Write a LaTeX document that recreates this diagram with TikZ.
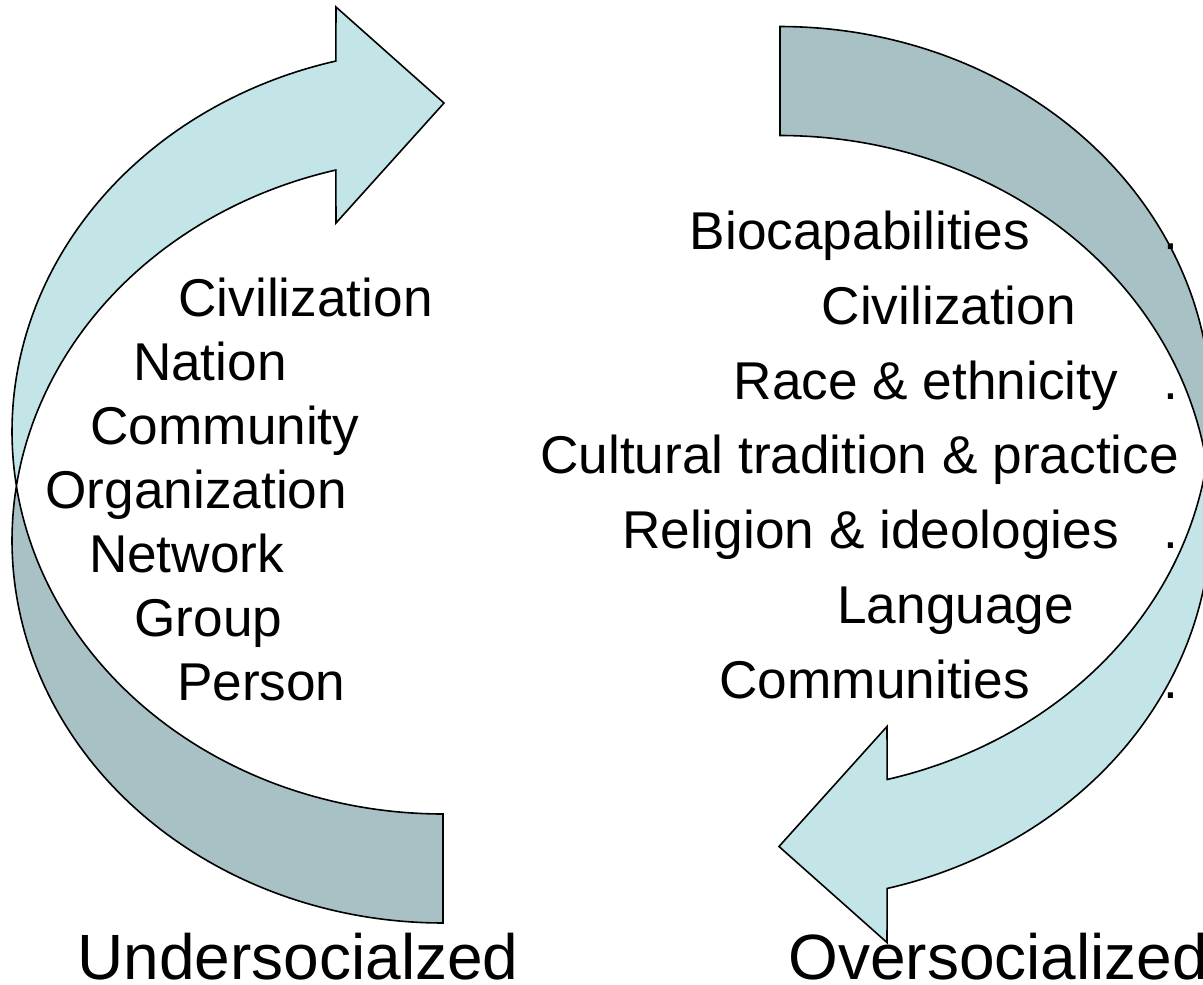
\documentclass[tikz,border=0pt]{standalone}
\usepackage{fontspec}
\setmainfont{Liberation Sans}
\definecolor{lightband}{HTML}{C4E5E8}
\definecolor{darkband}{HTML}{A7C1C4}
\tikzset{
  lbl/.style={inner sep=0pt, outer sep=0pt, font=\fontsize{53.2}{53.2}\selectfont},
  biglbl/.style={inner sep=0pt, outer sep=0pt, font=\fontsize{64}{64}\selectfont},
  frontband/.style={fill=lightband, draw=black, line width=1.6pt, line join=miter},
  backband/.style={fill=darkband, draw=black, line width=1.6pt, line join=miter},
}
\newcommand\mycurvedarrow{%
  % back (tail) band
  \draw[backband]
    plot[domain=188.2:90, samples=90] ({443+431*cos(\x)}, {540.5+382.5*sin(\x)})
    -- (443,814)
    -- plot[domain=90:171.8, samples=90] ({443+431*cos(\x)}, {431.5+382.5*sin(\x)})
    -- cycle;
  % front band with head
  \draw[frontband]
    plot[domain=171.8:255.6, samples=90] ({443+431*cos(\x)}, {431.5+382.5*sin(\x)})
    -- (336,7) -- (444,103) -- (336,223)
    -- plot[domain=255.6:188.2, samples=90] ({443+431*cos(\x)}, {540.5+382.5*sin(\x)})
    -- cycle;
}
\begin{document}
\begin{tikzpicture}[x=1pt,y=-1pt]
\useasboundingbox (0,0) rectangle (1203,985);
\fill[white] (0,0) rectangle (1203,985);

% left arrow (undersocialized)
\mycurvedarrow
% right arrow (oversocialized): same shape turned half round
\begin{scope}[rotate around={180:(611.5,474.75)}]
\mycurvedarrow
\end{scope}

% left list
\node[lbl, anchor=base west] (l1) at (178.4,316) {Civilization};
\node[lbl, anchor=base west] (l2) at (133,380) {Nation};
\node[lbl, anchor=base west] (l3) at (90.4,444) {Community};
\node[lbl, anchor=base west] (l4) at (45.5,508) {Organization};
\node[lbl, anchor=base west] (l5) at (89,572) {Network};
\node[lbl, anchor=base west] (l6) at (134.5,636) {Group};
\node[lbl, anchor=base west] (l7) at (177,700) {Person};

% right list
\node[lbl, anchor=base east] (r1) at (1030,249.5) {Biocapabilities};
\node[lbl, anchor=base east] (r2) at (1076,324.3) {Civilization};
\node[lbl, anchor=base east] (r3) at (1118,399) {Race \& ethnicity};
\node[lbl, anchor=base east] (r4) at (1179,473.8) {Cultural tradition \& practice};
\node[lbl, anchor=base east] (r5) at (1119,548.5) {Religion \& ideologies};
\node[lbl, anchor=base east] (r6) at (1074,623.3) {Language};
\node[lbl, anchor=base east] (r7) at (1030,698) {Communities};

% trailing periods
\node[lbl, anchor=base west] (d1) at (1163,249.5) {.};
\node[lbl, anchor=base west] (d3) at (1163,399) {.};
\node[lbl, anchor=base west] (d5) at (1163,548.5) {.};
\node[lbl, anchor=base west] (d7) at (1163,698) {.};

% bottom labels
\node[biglbl, anchor=base west] (under) at (77.5,979) {Undersocialzed};
\node[biglbl, anchor=base west] (over) at (788.5,979) {Oversocialized};
\end{tikzpicture}
\end{document}
